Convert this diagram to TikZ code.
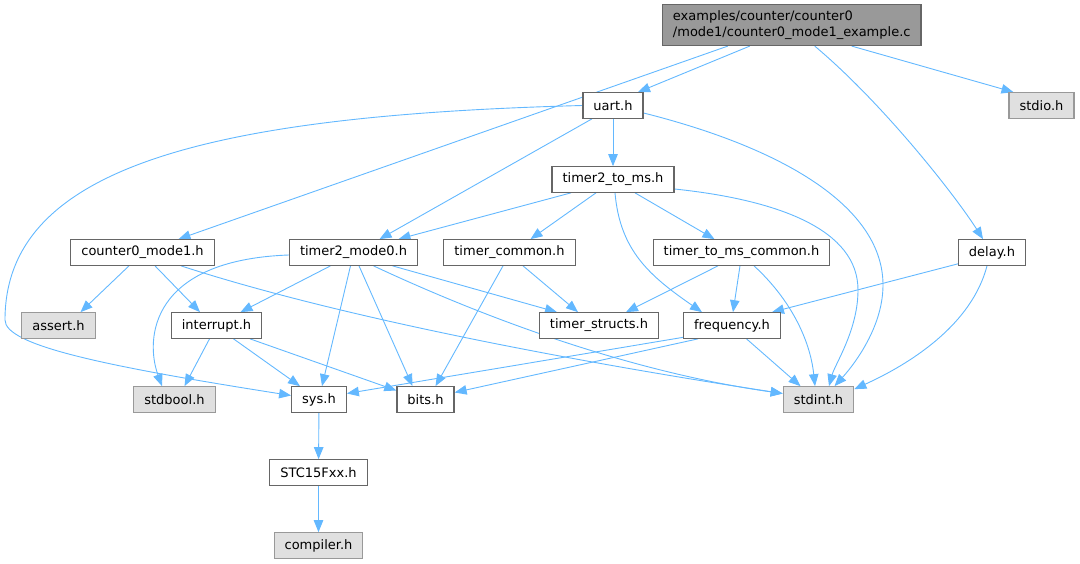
\documentclass[tikz,border=0pt]{standalone}
\usepackage{fontspec}
\setmainfont{DejaVu Sans}
\usetikzlibrary{arrows.meta,backgrounds}
\definecolor{edgeblue}{HTML}{63B8FF}
\definecolor{grey40}{HTML}{666666}
\definecolor{grey60}{HTML}{999999}
\definecolor{grey87}{HTML}{E0E0E0}
\tikzset{>={Triangle[length=12pt,width=9.5pt]},
	filebox/.style={draw=grey40, fill=white, line width=1.2pt,
		minimum height=25.5pt, inner xsep=10.5pt, inner ysep=0pt,
		font=\fontsize{13}{15}\selectfont},
	sysbox/.style={filebox, draw=grey60, fill=grey87},
	rootbox/.style={filebox, fill=grey60, minimum height=41pt,
		align=left, font=\fontsize{13}{16}\selectfont},
	incl/.style={->, draw=edgeblue, line width=0.9pt}}

\begin{document}
\begin{tikzpicture}[x=1pt, y=-1pt]
	\useasboundingbox (0,0) rectangle (1080,564);
	\node[rootbox] (root) at (791.75,25) {examples/counter/counter0\\/mode1/counter0\_mode1\_example.c};
	\node[filebox] (uart) at (613,105.5) {uart.h};
	\node[sysbox] (stdio) at (1041.5,105.5) {stdio.h};
	\node[filebox] (t2tms) at (613,179.5) {timer2\_to\_ms.h};
	\node[filebox] (c0m1) at (142.5,252.5) {counter0\_mode1.h};
	\node[filebox] (t2m0) at (353.5,252.5) {timer2\_mode0.h};
	\node[filebox] (tcommon) at (509.5,252.5) {timer\_common.h};
	\node[filebox] (ttmsc) at (741.5,252.5) {timer\_to\_ms\_common.h};
	\node[filebox] (delay) at (992,252.5) {delay.h};
	\node[sysbox] (assert) at (58.5,325.5) {assert.h};
	\node[filebox] (intr) at (216.5,325.5) {interrupt.h};
	\node[filebox] (tstructs) at (599,325.5) {timer\_structs.h};
	\node[filebox] (freq) at (732,325.5) {frequency.h};
	\node[sysbox] (stdbool) at (174.5,399.5) {stdbool.h};
	\node[filebox] (sys) at (319,399.5) {sys.h};
	\node[filebox] (bits) at (425.5,399.5) {bits.h};
	\node[sysbox] (stdint) at (818.5,399.5) {stdint.h};
	\node[filebox] (stc) at (318.5,472.5) {STC15Fxx.h};
	\node[sysbox] (compiler) at (318.5,545.5) {compiler.h};

	\begin{scope}[on background layer]
	\draw[incl] ([xshift=-42pt]root.south) -- ([xshift=25pt]uart.north);
	\draw[incl] ([xshift=-64pt]root.south) -- ([xshift=36pt]c0m1.north);
	\draw[incl] ([xshift=23pt]root.south) .. controls +(68,57) and +(-28,-44) .. ([xshift=-9pt]delay.north);
	\draw[incl] ([xshift=60pt]root.south) -- ([xshift=-28pt]stdio.north);

	\draw[incl] (uart) -- (t2tms);
	\draw[incl] ([xshift=-21pt]uart.south) -- ([xshift=26pt]t2m0.north);
	\draw[incl] (uart.west) .. controls +(-383,10) and +(0,-150) .. (5,320)
		.. controls +(0,25) and +(-191,-30) .. ([yshift=4pt]sys.west);
	\draw[incl] ([yshift=-7.5pt]uart.east) .. controls +(147,37) and +(0,-75) .. (883,285)
		.. controls +(0,45) and +(15.5,-17) .. ([xshift=16pt]stdint.north);

	\draw[incl] ([xshift=-42pt]t2tms.south) -- ([xshift=45pt]t2m0.north);
	\draw[incl] ([xshift=-17pt]t2tms.south) -- ([xshift=21pt]tcommon.north);
	\draw[incl] ([xshift=22pt]t2tms.south) -- ([xshift=-27pt]ttmsc.north);
	\draw[incl] ([xshift=2pt]t2tms.south) .. controls +(5,58) and +(-52,-36) .. ([xshift=-30pt]freq.north);
	\draw[incl] ([yshift=-9.5pt]t2tms.east) .. controls +(105,11) and +(0,-60) .. (858,290)
		.. controls +(0,40) and +(6,-22) .. ([xshift=10.5pt]stdint.north);

	\draw[incl] ([xshift=-13.5pt]c0m1.south) -- ([xshift=22pt]assert.north);
	\draw[incl] ([xshift=12.5pt]c0m1.south) -- ([xshift=-16.5pt]intr.north);
	\draw[incl] ([xshift=38.5pt]c0m1.south) .. controls +(169,55) and +(-183,-28) .. ([yshift=6pt]stdint.west);

	\draw[incl] ([yshift=-2.5pt]t2m0.west) .. controls +(-139,5) and +(-17,-47) .. ([xshift=-12.5pt]stdbool.north);
	\draw[incl] ([xshift=-23pt]t2m0.south) -- ([xshift=24pt]intr.north);
	\draw[incl] ([xshift=-3pt]t2m0.south) -- ([xshift=3pt]sys.north);
	\draw[incl] ([xshift=5.5pt]t2m0.south) -- ([xshift=-13pt]bits.north);
	\draw[incl] ([xshift=39pt]t2m0.south) -- ([xshift=-42pt]tstructs.north);
	\draw[incl] ([xshift=20pt]t2m0.south) .. controls +(96,45) and +(-163,-23) .. ([yshift=6pt]stdint.west);

	\draw[incl] ([xshift=13.5pt]tcommon.south) -- ([xshift=-21pt]tstructs.north);
	\draw[incl] ([xshift=-6.5pt]tcommon.south) -- ([xshift=10pt]bits.north);

	\draw[incl] ([xshift=-23.5pt]ttmsc.south) -- ([xshift=27pt]tstructs.north);
	\draw[incl] ([xshift=-1.5pt]ttmsc.south) -- ([xshift=1pt]freq.north);
	\draw[incl] ([xshift=12.5pt]ttmsc.south) .. controls +(36,33) and +(-5,-47) .. ([xshift=-3.5pt]stdint.north);

	\draw[incl] ([yshift=2pt]delay.south west) -- ([xshift=40pt]freq.north);
	\draw[incl] ([xshift=-5pt]delay.south) .. controls +(-17,65) and +(44,-20) .. ([yshift=-3pt]stdint.north east);

	\draw[incl] ([xshift=-7pt]intr.south) -- ([xshift=10pt]stdbool.north);
	\draw[incl] ([xshift=17pt]intr.south) -- ([xshift=-19pt]sys.north);
	\draw[incl] ([xshift=33.5pt]intr.south) -- ([yshift=9pt]bits.west);

	\draw[incl] ([yshift=1.5pt]freq.south west) -- ([yshift=6pt]sys.east);
	\draw[incl] ([xshift=15pt]freq.south west) -- ([yshift=7pt]bits.east);
	\draw[incl] ([xshift=14.5pt]freq.south) -- ([xshift=-18pt]stdint.north);

	\draw[incl] (sys) -- (stc);
	\draw[incl] (stc) -- (compiler);
	\end{scope}
\end{tikzpicture}
\end{document}
